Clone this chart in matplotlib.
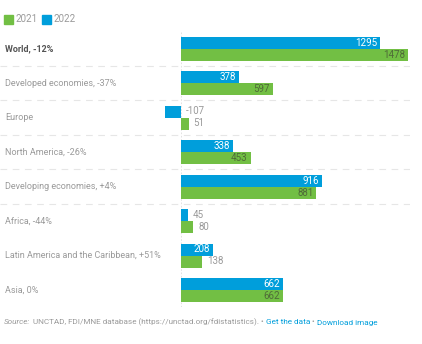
import matplotlib.pyplot as plt
from matplotlib.patches import Rectangle
from matplotlib.transforms import blended_transform_factory

plt.rcParams['font.family'] = ['Roboto', 'DejaVu Sans']

categories = ["World, -12%", "Developed economies, -37%", "Europe",
              "North America, -26%", "Developing economies, +4%",
              "Africa, -44%", "Latin America and the Caribbean, +51%", "Asia, 0%"]
values_2022 = [1295, 378, -107, 338, 916, 45, 208, 662]
values_2021 = [1478, 597, 51, 453, 881, 80, 138, 662]
series_names = ["2021", "2022"]

GREEN = "#72BF44"
BLUE = "#009EDB"
GREY = "#9a9a9a"

W, H = 422, 344
fig = plt.figure(figsize=(W / 100, H / 100), dpi=100)

# axes occupy the full width; x scale places zero at 181 px
ax = fig.add_axes([0, 1 - 307.25 / H, 410 / W, (307.25 - 31.25) / H])
px_per_unit = (408 - 181) / 1478
ax.set_xlim(-181 / px_per_unit, (410 - 181) / px_per_unit)
ax.set_ylim(len(categories) - 0.5, -0.5)
ax.axis('off')

bh = 12 / 34.5
ys = list(range(len(categories)))
ax.barh([y - bh / 2 for y in ys], values_2022, height=bh, color=BLUE, zorder=2)
ax.barh([y + bh / 2 for y in ys], values_2021, height=bh, color=GREEN, zorder=2)

# faint zero line
ax.axvline(0, color="#dddddd", lw=0.6, ls=(0, (2, 2)), zorder=1)

# dashed separators between the top groups
for y in [0.5, 1.5, 2.5, 3.5, 4.5]:
    ax.axhline(y, color="#e6e6e6", lw=0.8, ls=(0, (6, 5)), zorder=0)

# value labels
pad = 3 / px_per_unit
thr = 170
for y, v22, v21 in zip(ys, values_2022, values_2021):
    for v, yy, inner in [(v22, y - bh / 2, "white"), (v21, y + bh / 2, "#4f6b38")]:
        if v > thr:
            ax.text(v - pad, yy, f"{v}", ha="right", va="center",
                    fontsize=7, color=inner, zorder=3)
        else:
            ax.text(max(v, 0) + pad * 1.6, yy, f"{v}", ha="left", va="center",
                    fontsize=7, color=GREY, zorder=3)

# category labels
tr = blended_transform_factory(fig.transFigure, ax.transData)
for i, c in enumerate(categories):
    ax.text(5 / W, i, c, transform=tr, ha="left", va="center", fontsize=6.5,
            color="#555555" if i == 0 else GREY,
            fontweight="bold" if i == 0 else "normal")

# legend
def fx(p):
    return p / W

def fy(p):
    return 1 - p / H

for x0, col, name in [(4, GREEN, series_names[0]), (42, BLUE, series_names[1])]:
    fig.patches.append(Rectangle((fx(x0), fy(24)), 9 / W, 9 / H,
                                 transform=fig.transFigure, color=col))
    fig.text(fx(x0 + 11), fy(19.5), name, ha="left", va="center",
             fontsize=7, color=GREY)

# source line
sy = fy(322.5)
t1 = fig.text(fx(4), sy, "Source:", ha="left", va="center", fontsize=5.9,
              color=GREY, style="italic")
fig.canvas.draw()
r = fig.canvas.get_renderer()
x = t1.get_window_extent(r).x1 + 1
parts = [(" UNCTAD, FDI/MNE database (https://unctad.org/fdistatistics). \u2022", GREY),
         (" Get the data", BLUE), (" \u2022", GREY), (" Download image", BLUE)]
for txt, col in parts:
    t = fig.text(x / W, sy, txt, ha="left", va="center", fontsize=5.9, color=col)
    x = t.get_window_extent(r).x1

fig.savefig("out.png", dpi=100)
